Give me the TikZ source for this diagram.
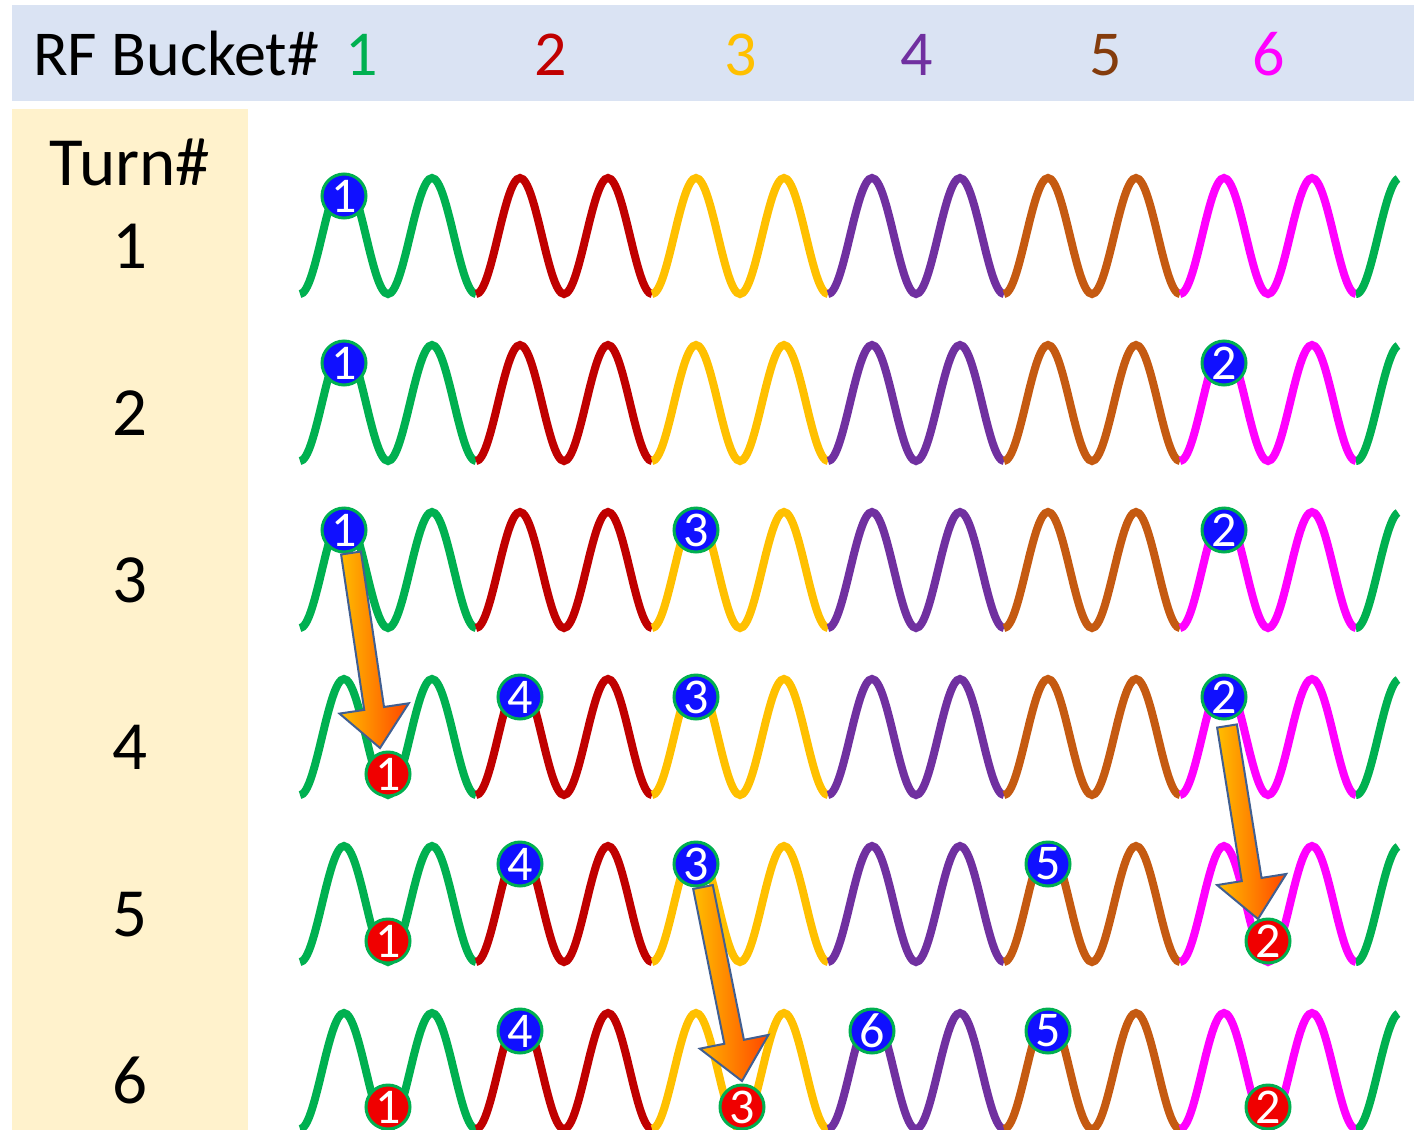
\documentclass[tikz,border=0pt]{standalone}
\usepackage{fontspec}
\setmainfont{Carlito}
\usetikzlibrary{calc}
\definecolor{cgreen}{RGB}{0,176,80}
\definecolor{cred}{RGB}{192,0,0}
\definecolor{cgold}{RGB}{255,192,0}
\definecolor{cpurple}{RGB}{112,48,160}
\definecolor{cbrown}{RGB}{197,90,17}
\definecolor{cbrowntxt}{RGB}{132,60,12}
\definecolor{cmag}{RGB}{255,0,255}
\definecolor{hdrbg}{RGB}{218,227,243}
\definecolor{colbg}{RGB}{255,242,204}
\definecolor{ballblue}{RGB}{16,16,255}
\definecolor{ballred}{RGB}{240,0,0}
\definecolor{arrline}{RGB}{65,95,145}
\definecolor{arrA}{RGB}{255,190,0}
\definecolor{arrB}{RGB}{255,70,0}
\newcommand\blockarrow[2]{%
  \coordinate (#1-hb) at ($(#2)!40pt!(#1)$);
  \filldraw[bigarrow]
    ($(#1)!10pt!90:(#2)$) -- ($(#1-hb)!10pt!90:(#2)$) -- ($(#1-hb)!35pt!90:(#2)$) --
    (#2) --
    ($(#1-hb)!35pt!-90:(#2)$) -- ($(#1-hb)!10pt!-90:(#2)$) -- ($(#1)!10pt!-90:(#2)$) -- cycle;
}
\begin{document}
\begin{tikzpicture}[x=1pt,y=-1pt,
  wave/.style={line width=8pt},
  bigtext/.style={font=\fontsize{64}{70}\selectfont, inner sep=0pt, anchor=base},
  coltext/.style={font=\fontsize{69}{74}\selectfont, inner sep=0pt, anchor=base},
  ballbase/.style={circle, minimum size=44pt, inner sep=0pt, draw=cgreen, line width=3pt,
     text=white, font=\fontsize{50}{50}\selectfont},
  blueball/.style={ballbase, fill=ballblue},
  redball/.style={ballbase, fill=ballred},
  bigarrow/.style={draw=arrline, line width=2pt, line join=miter, left color=arrA, right color=arrB}]
\useasboundingbox (0,0) rectangle (1414,1130);
\fill[white] (0,0) rectangle (1414,1130);
% backgrounds
\fill[hdrbg] (12,5) rectangle (1414,101);
\fill[colbg] (12,109) rectangle (248,1130);
% header
\node[bigtext, anchor=base west] (hdr) at (33,75) {RF Bucket\#};
\node[bigtext, text=cgreen] (h1) at (362,75) {1};
\node[bigtext, text=cred] (h2) at (551,75) {2};
\node[bigtext, text=cgold] (h3) at (741,75) {3};
\node[bigtext, text=cpurple] (h4) at (917,75) {4};
\node[bigtext, text=cbrowntxt] (h5) at (1106,75) {5};
\node[bigtext, text=cmag] (h6) at (1269,75) {6};
% left column
\node[coltext] (turn) at (130,185) {Turn\#};
\foreach \r in {1,...,6}{
  \node[coltext] (t\r) at (130,{268+167*(\r-1)}) {\r};
}
% waves
\foreach \r in {1,...,6}{
  \pgfmathsetmacro\c{236+167*(\r-1)}
  \foreach \a/\b/\col in {300/476/cgreen,476/652/cred,652/828/cgold,828/1004/cpurple,1004/1180/cbrown,1180/1356/cmag,1356/1398/cgreen}{
    \draw[wave, \col] plot[domain=\a:\b, samples=61, smooth] (\x, {\c+58*cos((\x-300)*4.0909091)});
  }
}
% balls
% row 1 (c=236)
\node[blueball] (r1n1) at (344,196) {1};
% row 2 (c=403)
\node[blueball] (r2n1) at (344,363) {1};
\node[blueball] (r2n2) at (1224,363) {2};
% row 3 (c=570)
\node[blueball] (r3n1) at (344,530) {1};
\node[blueball] (r3n3) at (696,530) {3};
\node[blueball] (r3n2) at (1224,530) {2};
% row 4 (c=737)
\node[redball]  (r4n1) at (388,774) {1};
\node[blueball] (r4n4) at (520,697) {4};
\node[blueball] (r4n3) at (696,697) {3};
\node[blueball] (r4n2) at (1224,697) {2};
% row 5 (c=904)
\node[redball]  (r5n1) at (388,941) {1};
\node[blueball] (r5n4) at (520,864) {4};
\node[blueball] (r5n3) at (696,864) {3};
\node[blueball] (r5n5) at (1048,864) {5};
\node[redball]  (r5n2) at (1268,941) {2};
% row 6 (c=1071)
\node[redball]  (r6n1) at (388,1107) {1};
\node[blueball] (r6n4) at (520,1031) {4};
\node[redball]  (r6n3) at (742,1107) {3};
\node[blueball] (r6n6) at (872,1031) {6};
\node[blueball] (r6n5) at (1048,1031) {5};
\node[redball]  (r6n2) at (1268,1107) {2};
% arrows
\coordinate (a1s) at (351,553);
\coordinate (a1e) at (380,748);
\coordinate (a2s) at (1227,726);
\coordinate (a2e) at (1258,919);
\coordinate (a3s) at (703,887);
\coordinate (a3e) at (742,1081);
\blockarrow{a1s}{a1e}
\blockarrow{a2s}{a2e}
\blockarrow{a3s}{a3e}
\end{tikzpicture}
\end{document}
